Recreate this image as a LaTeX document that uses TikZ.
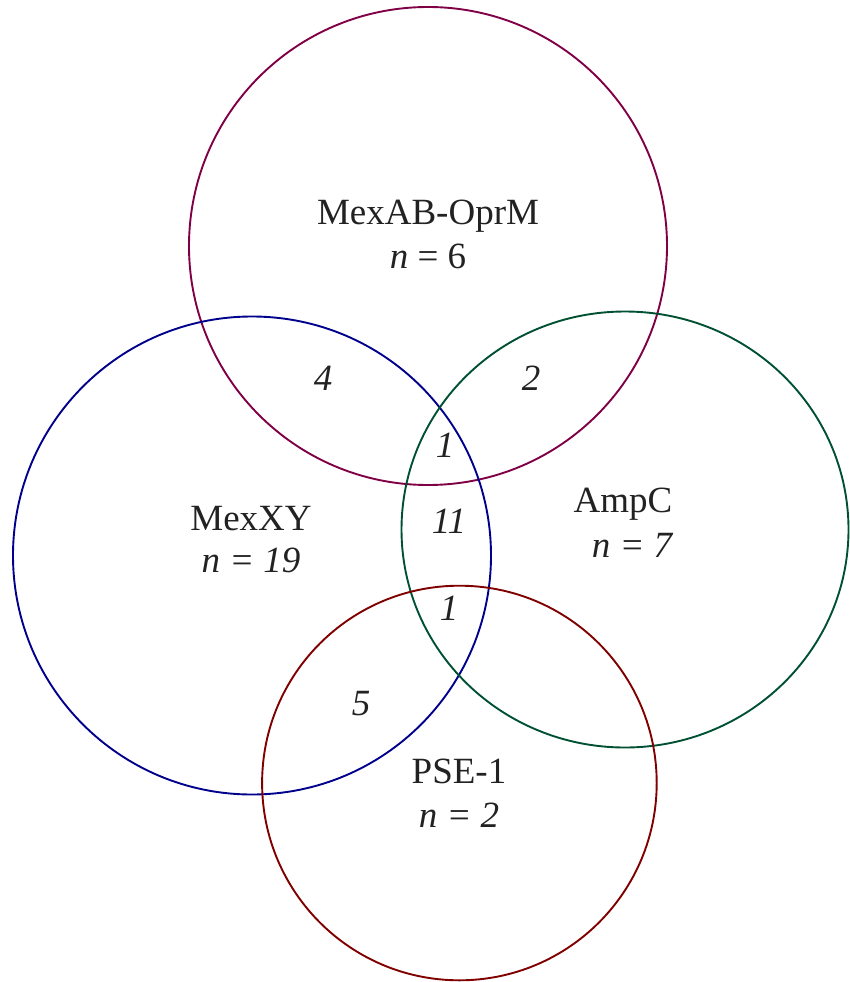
\documentclass[tikz,border=0pt]{standalone}
\usepackage{fontspec}
\setmainfont{Liberation Serif}
\definecolor{cPurple}{RGB}{128,0,70}
\definecolor{cBlue}{RGB}{0,0,140}
\definecolor{cGreen}{RGB}{0,80,50}
\definecolor{cRed}{RGB}{128,0,0}
\definecolor{cText}{RGB}{34,34,34}
\tikzset{
  setline/.style={line width=1.9pt},
  lbl/.style={anchor=base, inner sep=0pt, text=cText, font=\fontsize{37}{44}\selectfont},
  num/.style={lbl, font=\fontsize{37}{44}\selectfont\itshape}
}
\begin{document}
\begin{tikzpicture}[x=1pt,y=-1pt]
\useasboundingbox (0,0) rectangle (849,982);
\draw[setline, cPurple] (428,246) circle[radius=239];
\draw[setline, cBlue] (252,555.5) circle[radius=239];
\draw[setline, cGreen] (625,529.5) ellipse[x radius=223.5, y radius=218];
\draw[setline, cRed] (459.4,783) circle[radius=197.3];
\node[lbl] (mexab) at (428,224) {MexAB-OprM};
\node[lbl] (mexabn) at (428,268) {\textit{n} = 6};
\node[lbl] (mexxy) at (251,530) {MexXY};
\node[num] (mexxyn) at (251,572) {n = 19};
\node[lbl] (ampc) at (623,512) {AmpC};
\node[num] (ampcn) at (632,557) {n = 7};
\node[lbl] (pse) at (459,783) {PSE-1};
\node[num] (psen) at (459,827) {n = 2};
\node[num] (nfour) at (323,390) {4};
\node[num] (ntwo) at (531,390) {2};
\node[num] (noneA) at (445,457) {1};
\node[num] (neleven) at (449,533) {11};
\node[num] (noneB) at (449,620) {1};
\node[num] (nfive) at (361,715) {5};
\end{tikzpicture}
\end{document}
